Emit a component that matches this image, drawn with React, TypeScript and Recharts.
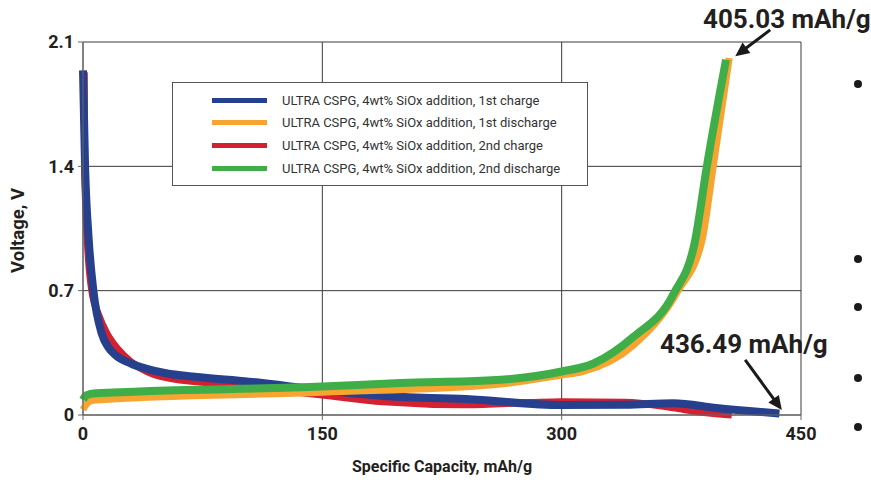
import {
  CartesianGrid,
  Legend,
  Line,
  LineChart,
  ReferenceLine,
  XAxis,
  YAxis,
} from "recharts";

// 1st charge (blue)
const charge1Cap = [0, 1.3, 3.5, 6.5, 11.7, 16, 20, 30, 40, 52, 70, 104, 150, 188, 240, 300, 340, 370, 397, 436.49];
const charge1Volt = [1.94, 1.4, 1.0, 0.7, 0.46, 0.38, 0.34, 0.29, 0.26, 0.235, 0.215, 0.188, 0.14, 0.107, 0.09, 0.056, 0.058, 0.066, 0.04, 0.008];

// 1st discharge (orange)
const discharge1Cap = [0, 2, 5, 8, 150, 257, 300, 313, 345, 373, 388, 395, 405.03];
const discharge1Volt = [0.03, 0.06, 0.08, 0.085, 0.128, 0.17, 0.225, 0.244, 0.394, 0.7, 0.985, 1.4, 2.01];

// 2nd charge (red)
const charge2Cap = [0.8, 1.0, 2.6, 5.5, 10, 15, 22, 30, 40, 52, 83, 150, 188, 240, 280, 300, 340, 370, 387, 406.6];
const charge2Volt = [1.93, 1.4, 1.0, 0.7, 0.56, 0.46, 0.37, 0.3, 0.245, 0.21, 0.178, 0.113, 0.075, 0.058, 0.07, 0.075, 0.072, 0.04, 0.017, 0.0];

// 2nd discharge (green)
const discharge2Cap = [0, 2, 8, 150, 199, 256, 300, 320, 345, 370, 383.7, 391, 403];
const discharge2Volt = [0.085, 0.11, 0.122, 0.16, 0.18, 0.195, 0.245, 0.29, 0.44, 0.68, 0.985, 1.4, 2.0];

const xTicks = [0, 150, 300, 450];
const yTicks = [0, 0.7, 1.4, 2.1];

const BLUE = "#26408e";
const ORANGE = "#f7a431";
const RED = "#d42030";
const GREEN = "#3fae49";
const INK = "#231f20";
const FONT = "Roboto, 'Noto Sans', Arial, sans-serif";

const legendItems = [
  { label: "ULTRA CSPG, 4wt% SiOx addition, 1st charge", color: BLUE },
  { label: "ULTRA CSPG, 4wt% SiOx addition, 1st discharge", color: ORANGE },
  { label: "ULTRA CSPG, 4wt% SiOx addition, 2nd charge", color: RED },
  { label: "ULTRA CSPG, 4wt% SiOx addition, 2nd discharge", color: GREEN },
];

// arrow tail -> tip, in data coordinates
const arrowTop = [{ x: 430.7, y: 2.168 }, { x: 408.8, y: 2.02 }];
const arrowBottom = [{ x: 415, y: 0.31 }, { x: 438, y: 0.028 }];

const bulletRows = [84, 259, 307, 378, 427];

function toRows(caps: number[], volts: number[]) {
  return caps.map((cap, i) => ({ cap, v: volts[i] }));
}

const AXIS_TICK = { fontSize: 18, fontWeight: 700, fill: INK, fontFamily: FONT };

function Arrow(props: any) {
  const { x1, y1, x2, y2 } = props;
  const dx = x2 - x1;
  const dy = y2 - y1;
  const len = Math.hypot(dx, dy) || 1;
  const ux = dx / len;
  const uy = dy / len;
  const head = 14;
  const half = 6.5;
  const bx = x2 - ux * head;
  const by = y2 - uy * head;
  const px = -uy;
  const py = ux;
  return (
    <g>
      <line x1={x1} y1={y1} x2={bx + ux * 2} y2={by + uy * 2} stroke="#1a1a1a" strokeWidth={3} />
      <polygon
        points={`${x2},${y2} ${bx + px * half},${by + py * half} ${bx - px * half},${by - py * half}`}
        fill="#1a1a1a"
      />
    </g>
  );
}

function LegendBox() {
  return (
    <div
      style={{
        width: 416,
        height: 104,
        boxSizing: "border-box",
        border: "1px solid #555",
        background: "#fff",
        paddingTop: 6,
        fontFamily: FONT,
      }}
    >
      {legendItems.map((item) => (
        <div key={item.label} style={{ display: "flex", alignItems: "center", height: 22.6 }}>
          <span
            style={{
              display: "inline-block",
              width: 55,
              height: 5,
              marginLeft: 39,
              marginRight: 15,
              background: item.color,
            }}
          />
          <span style={{ fontSize: 13, color: "#333" }}>{item.label}</span>
        </div>
      ))}
    </div>
  );
}

function YTitle(props: any) {
  const vb = props.viewBox || { x: 0, y: 0, height: 0 };
  const cx = 18;
  const cy = vb.y + vb.height / 2 + 2;
  return (
    <text
      x={cx}
      y={cy}
      transform={`rotate(-90, ${cx}, ${cy})`}
      textAnchor="middle"
      dominantBaseline="central"
      style={{ fontSize: 18.5, fontWeight: 700, fill: INK, fontFamily: FONT }}
    >
      Voltage, V
    </text>
  );
}

function XTitle(props: any) {
  const vb = props.viewBox || { x: 0, y: 0, width: 0 };
  return (
    <text
      x={vb.x + vb.width / 2}
      y={vb.y + 51}
      textAnchor="middle"
      dominantBaseline="central"
      style={{ fontSize: 16, fontWeight: 700, fill: INK, fontFamily: FONT }}
    >
      Specific Capacity, mAh/g
    </text>
  );
}

const annotationStyle = {
  position: "absolute" as const,
  fontFamily: FONT,
  fontSize: 26,
  fontWeight: 700,
  lineHeight: 1,
  color: INK,
  whiteSpace: "nowrap" as const,
};

export default function App() {
  const series = [
    { name: "2nd charge", rows: toRows(charge2Cap, charge2Volt), color: RED, width: 7 },
    { name: "1st charge", rows: toRows(charge1Cap, charge1Volt), color: BLUE, width: 8 },
    { name: "1st discharge", rows: toRows(discharge1Cap, discharge1Volt), color: ORANGE, width: 7 },
    { name: "2nd discharge", rows: toRows(discharge2Cap, discharge2Volt), color: GREEN, width: 8 },
  ];

  return (
    <div style={{ position: "absolute", left: 0, top: 0, width: 871, height: 483, background: "#fff" }}>
      <LineChart width={871} height={483} margin={{ top: 42, right: 70, bottom: 38, left: 0 }}>
        <CartesianGrid stroke="#3a3a3a" strokeWidth={1} />
        <XAxis
          dataKey="cap"
          type="number"
          domain={[0, 450]}
          ticks={xTicks}
          height={30}
          tick={AXIS_TICK}
          tickSize={5}
          tickMargin={7}
          stroke="#666"
          allowDuplicatedCategory={false}
          label={<XTitle />}
        />
        <YAxis
          type="number"
          domain={[0, 2.1]}
          ticks={yTicks}
          width={83}
          tick={AXIS_TICK}
          tickSize={5}
          tickMargin={4}
          stroke="#666"
          tickFormatter={(v: number) => (v === 0 ? "0" : v.toFixed(1))}
          label={<YTitle />}
        />
        <Legend
          layout="vertical"
          align="center"
          verticalAlign="middle"
          content={<LegendBox />}
          wrapperStyle={{ left: 172, top: 82, width: 416, height: 104 }}
        />
        {series.map((s) => (
          <Line
            key={s.name}
            data={s.rows}
            dataKey="v"
            name={s.name}
            type="monotone"
            stroke={s.color}
            strokeWidth={s.width}
            strokeLinecap="butt"
            strokeLinejoin="round"
            dot={false}
            activeDot={false}
            isAnimationActive={false}
          />
        ))}
        <ReferenceLine segment={arrowTop} ifOverflow="visible" shape={<Arrow />} />
        <ReferenceLine segment={arrowBottom} ifOverflow="visible" shape={<Arrow />} />
      </LineChart>
      <div style={{ ...annotationStyle, left: 703, top: 6 }}>405.03 mAh/g</div>
      <div style={{ ...annotationStyle, left: 660, top: 331 }}>436.49 mAh/g</div>
      {bulletRows.map((y) => (
        <div
          key={y}
          style={{
            position: "absolute",
            left: 858,
            top: y,
            width: 8,
            height: 8,
            marginLeft: -4,
            marginTop: -4,
            borderRadius: "50%",
            background: "#1a1a1a",
          }}
        />
      ))}
    </div>
  );
}
